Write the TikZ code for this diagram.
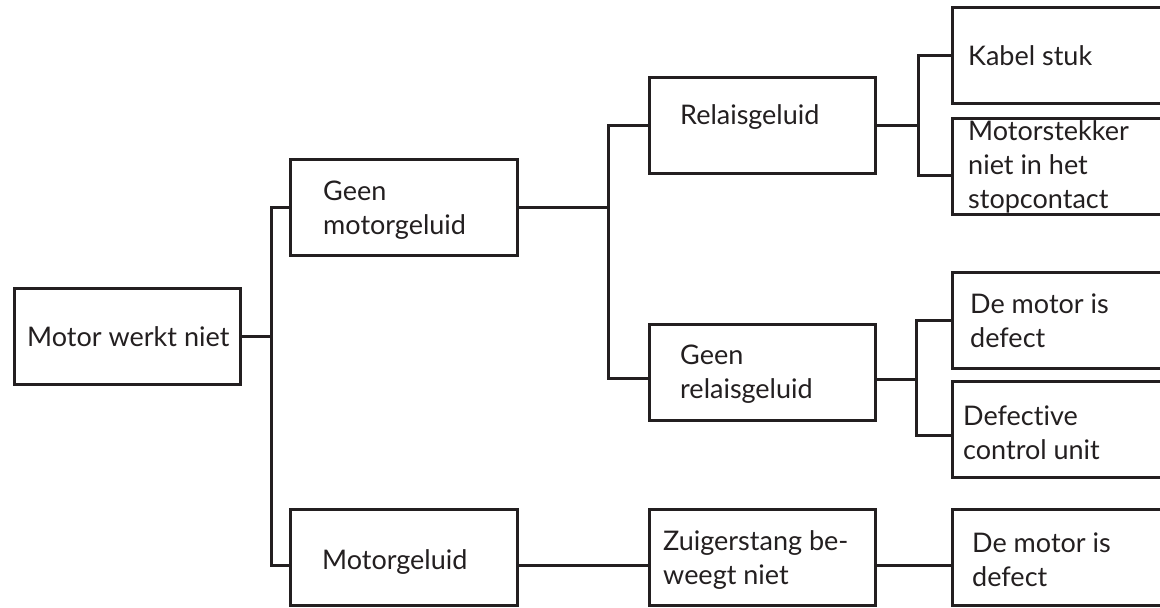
\documentclass[tikz,border=0pt]{standalone}
\usepackage{fontspec}
\setmainfont{Lato}[Ligatures={NoCommon}]
\usetikzlibrary{positioning}
\definecolor{ink}{RGB}{35,31,32}

\begin{document}
\begin{tikzpicture}[
    x=1pt, y=-1pt,
    box/.style={draw=ink, line width=3pt, anchor=north west, minimum height=96pt, inner sep=0pt},
    txt/.style={align=left, inner sep=0pt, text=ink, font=\fontsize{27}{34}\selectfont},
    link/.style={draw=ink, line width=3pt}
]
\useasboundingbox (0,0) rectangle (1160,608);

% Boxes
\node[box, minimum width=226pt] (werkt) at (13,287) {};
\node[box, minimum width=227pt] (geenmotor) at (289,158) {};
\node[box, minimum width=227pt] (motor) at (289,508) {};
\node[box, minimum width=226pt] (relais) at (648,76) {};
\node[box, minimum width=226pt] (geenrelais) at (648,323) {};
\node[box, minimum width=226pt] (zuiger) at (648,508) {};
\node[box, minimum width=260pt] (kabel) at (951,6) {};
\node[box, minimum width=260pt] (stekker) at (951,117) {};
\node[box, minimum width=260pt] (defect1) at (951,271) {};
\node[box, minimum width=260pt] (control) at (951,380) {};
\node[box, minimum width=260pt] (defect2) at (951,508) {};

% Texts
\node[txt, right=14pt of werkt.west] (t-werkt) {Motor werkt niet};
\node[txt, right=34pt of geenmotor.west, yshift=-3pt] (t-geenmotor) {Geen\\motorgeluid};
\node[txt, right=33pt of motor.west, yshift=-5pt] (t-motor) {Motorgeluid};
\node[txt, right=32pt of relais.west, yshift=8pt] (t-relais) {Relaisgeluid};
\node[txt, right=32pt of geenrelais.west, yshift=-2pt] (t-geenrelais) {Geen\\relaisgeluid};
\node[txt, right=15pt of zuiger.west, yshift=-3pt] (t-zuiger) {Zuigerstang be-\\weegt niet};
\node[txt, right=17pt of kabel.west] (t-kabel) {Kabel stuk};
\node[txt, right=17pt of stekker.west] (t-stekker) {Motorstekker\\niet in het\\stopcontact};
\node[txt, right=19pt of defect1.west] (t-defect1) {De motor is\\defect};
\node[txt, right=12pt of control.west, yshift=-3pt] (t-control) {Defective\\control unit};
\node[txt, right=21pt of defect2.west, yshift=-2pt] (t-defect2) {De motor is\\defect};

% Connectors
\draw[link] (werkt.east) -- ++(29,0) coordinate (j1);
\draw[link] (geenmotor.west) -| (j1) |- ([yshift=-8pt]motor.west);
\draw[link] (geenmotor.east) -- ++(89,0) coordinate (j2);
\draw[link] (relais.west) -| (j2) |- ([yshift=-6pt]geenrelais.west);
\draw[link] (relais.east) -- ++(41,0) coordinate (j3);
\draw[link] (kabel.west) -| (j3) |- ([yshift=-9pt]stekker.west);
\draw[link] ([yshift=-7pt]geenrelais.east) -- ++(39,0) coordinate (j4);
\draw[link] (defect1.west) -| (j4) |- ([yshift=-6pt]control.west);
\draw[link] ([yshift=-8pt]motor.east) -- ([yshift=-8pt]zuiger.west);
\draw[link] ([yshift=-8pt]zuiger.east) -- ([yshift=-8pt]defect2.west);

\end{tikzpicture}
\end{document}
